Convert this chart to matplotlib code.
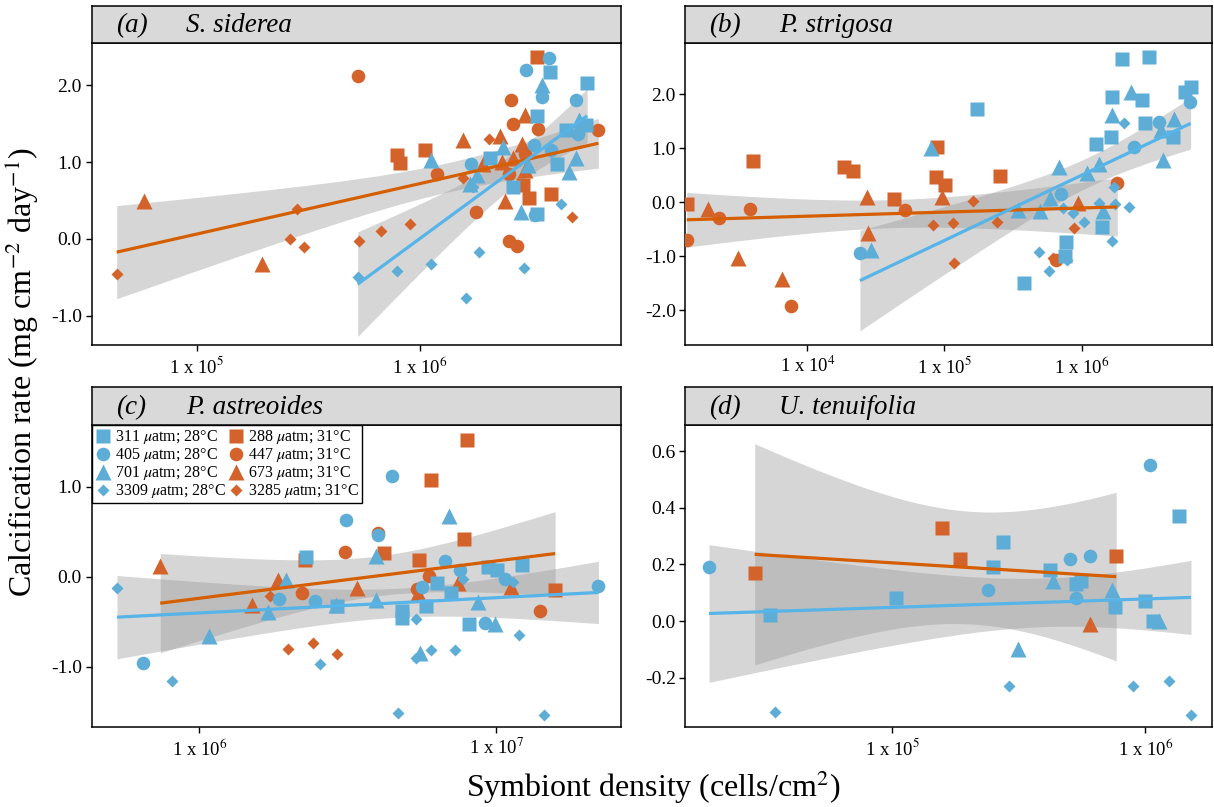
import math

import matplotlib
matplotlib.use("Agg")
import matplotlib.pyplot as plt
import numpy as np
from matplotlib.ticker import FixedLocator, FuncFormatter, NullLocator, FormatStrFormatter

plt.rcParams['font.family'] = ['Liberation Serif', 'DejaVu Serif']
plt.rcParams['mathtext.fontset'] = 'stix'
plt.rcParams['axes.unicode_minus'] = False

# symbiont density is stored as log10(cells/cm2), calcification in mg cm-2 day-1

# (a) S. siderea
ss_311_lx = [6.582, 6.749, 6.523, 6.654, 6.745, 6.313, 6.612, 6.415, 6.523]
ss_311_y = [2.17, 2.03, 1.60, 1.42, 1.48, 1.05, 0.97, 0.68, 0.32]
ss_405_lx = [6.579, 6.473, 6.545, 6.697, 6.709, 6.510, 6.589, 6.228, 6.514]
ss_405_y = [2.35, 2.20, 1.85, 1.81, 1.37, 1.22, 1.15, 0.97, 0.31]
ss_701_lx = [6.545, 6.049, 6.370, 6.254, 6.485, 6.699, 6.666, 6.452, 6.711, 6.224]
ss_701_y = [2.00, 1.02, 1.19, 0.83, 0.96, 1.05, 0.87, 0.35, 1.55, 0.72]
ss_3309_lx = [5.721, 5.899, 6.049, 6.204, 6.264, 6.465, 6.631, 6.239]
ss_3309_y = [-0.50, -0.42, -0.32, -0.77, -0.17, -0.38, 0.45, 0.68]
ss_288_lx = [6.523, 5.899, 5.910, 6.022, 6.462, 6.489, 6.589]
ss_288_y = [2.37, 1.09, 0.99, 1.16, 0.70, 0.53, 0.59]
ss_447_lx = [5.721, 6.408, 6.418, 6.527, 6.799, 6.075, 6.398, 6.251, 6.400, 6.433, 6.470]
ss_447_y = [2.12, 1.81, 1.49, 1.43, 1.42, 0.84, 0.85, 0.35, -0.03, -0.09, 1.11]
ss_673_lx = [4.765, 5.291, 6.191, 6.470, 6.358, 6.455, 6.283, 6.366, 6.415, 6.381, 6.470]
ss_673_y = [0.50, -0.32, 1.28, 1.61, 1.34, 1.23, 0.97, 1.00, 1.05, 0.50, 0.90]
ss_3285_lx = [4.642, 5.448, 5.418, 5.482, 5.727, 5.824, 5.955, 6.191, 6.309, 6.681]
ss_3285_y = [-0.45, 0.39, 0.00, -0.10, -0.03, 0.11, 0.20, 0.79, 1.30, 0.29]

# (b) P. strigosa
ps_311_lx = [6.295, 6.489, 5.239, 6.219, 6.436, 6.462, 6.216, 6.105, 6.667, 6.754, 6.793,
             6.145, 5.888, 5.875, 5.581]
ps_311_y = [2.65, 2.68, 1.72, 1.94, 1.89, 1.46, 1.20, 1.08, 1.20, 2.04, 2.14,
            -0.46, -0.74, -0.99, -1.50]
ps_405_lx = [6.786, 6.561, 6.383, 5.848, 4.384]
ps_405_y = [1.85, 1.49, 1.03, 0.15, -0.93]
ps_701_lx = [6.362, 6.219, 6.669, 6.581, 6.595, 6.126, 5.835, 6.039, 5.766, 5.536, 5.695,
             6.152, 4.901, 4.464]
ps_701_y = [2.03, 1.61, 1.54, 1.34, 0.79, 0.71, 0.66, 0.54, 0.07, -0.14, -0.17,
            -0.17, 1.00, -0.89]
ps_3309_lx = [6.311, 6.203, 6.238, 6.124, 6.243, 6.343, 5.862, 5.938, 6.013, 6.224, 5.687,
              5.761, 5.894]
ps_3309_y = [1.47, 1.23, 0.29, -0.02, -0.03, -0.09, -0.11, -0.20, -0.36, -0.71, -0.92,
             -1.27, -1.07]
ps_288_lx = [3.122, 3.608, 4.270, 4.331, 4.635, 4.945, 4.940, 5.006, 5.403]
ps_288_y = [-0.03, 0.77, 0.65, 0.57, 0.06, 1.02, 0.46, 0.32, 0.49]
ps_447_lx = [3.122, 3.357, 3.585, 3.884, 4.715, 6.259, 5.814]
ps_447_y = [-0.70, -0.30, -0.13, -1.92, -0.14, 0.36, -1.07]
ps_673_lx = [3.280, 3.497, 3.815, 4.432, 4.445, 4.980, 5.973]
ps_673_y = [-0.12, -1.04, -1.42, 0.10, -0.56, 0.10, -0.01]
ps_3285_lx = [4.913, 5.060, 5.068, 5.210, 5.385, 5.941, 5.793]
ps_3285_y = [-0.43, -0.38, -1.12, 0.03, -0.36, -0.48, -1.04]

# (c) P. astreoides
pa_311_lx = [6.360, 6.682, 6.682, 6.800, 6.848, 6.764, 6.910, 6.972, 7.004, 7.087, 6.463]
pa_311_y = [0.22, -0.38, -0.46, -0.07, -0.18, -0.32, -0.53, 0.11, 0.07, 0.13, -0.33]
pa_405_lx = [6.650, 6.494, 6.603, 6.828, 6.879, 7.030, 6.750, 6.269, 6.390, 6.961, 5.811, 7.345]
pa_405_y = [1.12, 0.63, 0.46, 0.17, 0.07, -0.03, -0.11, -0.25, -0.27, -0.51, -0.96, -0.10]
pa_701_lx = [6.842, 6.596, 6.292, 6.230, 6.460, 6.596, 6.938, 6.997, 6.033, 6.744]
pa_701_y = [0.67, 0.23, -0.04, -0.39, -0.31, -0.26, -0.28, -0.53, -0.66, -0.85]
pa_3309_lx = [5.722, 5.907, 6.407, 6.729, 6.729, 6.780, 6.862, 7.078, 7.056, 6.890, 6.671, 7.163]
pa_3309_y = [-0.13, -1.16, -0.97, -0.47, -0.90, -0.81, -0.81, -0.65, -0.06, -0.03, -1.51, -1.54]
pa_288_lx = [6.903, 6.780, 6.892, 6.623, 6.741, 6.356, 7.199]
pa_288_y = [1.52, 1.07, 0.42, 0.26, 0.19, 0.19, -0.15]
pa_447_lx = [6.601, 6.491, 6.774, 6.345, 6.733, 7.148]
pa_447_y = [0.49, 0.28, 0.01, -0.18, -0.14, -0.38]
pa_673_lx = [5.868, 6.266, 6.177, 6.531, 6.738, 6.870, 7.050]
pa_673_y = [0.12, -0.04, -0.31, -0.13, -0.18, -0.07, -0.11]
pa_3285_lx = [6.238, 6.300, 6.382, 6.463]
pa_3285_y = [-0.21, -0.80, -0.74, -0.86]

# (d) U. tenuifolia
ut_311_lx = [4.519, 5.017, 5.400, 5.438, 5.623, 5.727, 5.746, 5.882, 5.997, 6.029, 6.133]
ut_311_y = [0.02, 0.08, 0.19, 0.28, 0.18, 0.13, 0.14, 0.05, 0.07, 0.00, 0.37]
ut_405_lx = [4.278, 5.380, 5.703, 5.780, 5.725, 6.019]
ut_405_y = [0.19, 0.11, 0.22, 0.23, 0.08, 0.55]
ut_701_lx = [5.637, 5.867, 5.498, 6.053]
ut_701_y = [0.14, 0.11, -0.10, 0.00]
ut_3309_lx = [4.539, 5.462, 5.950, 6.093, 6.180]
ut_3309_y = [-0.32, -0.23, -0.23, -0.21, -0.33]
ut_288_lx = [4.458, 5.197, 5.268, 5.885]
ut_288_y = [0.17, 0.33, 0.22, 0.23]
ut_447_lx, ut_447_y = [], []
ut_673_lx = [5.782]
ut_673_y = [-0.01]
ut_3285_lx, ut_3285_y = [], []

labels_28 = [r'311 $\mu$atm; 28°C', r'405 $\mu$atm; 28°C', r'701 $\mu$atm; 28°C', r'3309 $\mu$atm; 28°C']
labels_31 = [r'288 $\mu$atm; 31°C', r'447 $\mu$atm; 31°C', r'673 $\mu$atm; 31°C', r'3285 $\mu$atm; 31°C']
markers = ['s', 'o', '^', 'D']
msizes = [9.5, 9.8, 11.5, 6.2]

BLUE_PT, ORANGE_PT = '#5EADD7', '#D3622B'
BLUE_LN, ORANGE_LN = '#56B4E9', '#D55E00'


def t975(df):
    t = np.linspace(0, 30, 300001)
    logc = math.lgamma((df + 1) / 2) - math.lgamma(df / 2) - 0.5 * math.log(df * math.pi)
    pdf = np.exp(logc) * (1 + t ** 2 / df) ** (-(df + 1) / 2)
    cdf = 0.5 + np.concatenate([[0], np.cumsum((pdf[1:] + pdf[:-1]) / 2 * np.diff(t))])
    return np.interp(0.975, cdf, t)


def lm_band(lx, y):
    lx = np.asarray(lx)
    y = np.asarray(y)
    n = len(lx)
    b, a = np.polyfit(lx, y, 1)
    xs = np.linspace(lx.min(), lx.max(), 100)
    yhat = a + b * xs
    s = np.sqrt(np.sum((y - (a + b * lx)) ** 2) / (n - 2))
    sxx = np.sum((lx - lx.mean()) ** 2)
    se = s * np.sqrt(1 / n + (xs - lx.mean()) ** 2 / sxx)
    t = t975(n - 2)
    return xs, yhat, yhat - t * se, yhat + t * se


W, H = 1214, 807
fig = plt.figure(figsize=(W / 100, H / 100), dpi=100)

panels = [
    dict(tag='(a)', name='S. siderea', px=(91.7, 620.7, 42.7, 345, 6),
         blue=[(ss_311_lx, ss_311_y), (ss_405_lx, ss_405_y), (ss_701_lx, ss_701_y), (ss_3309_lx, ss_3309_y)],
         orange=[(ss_288_lx, ss_288_y), (ss_447_lx, ss_447_y), (ss_673_lx, ss_673_y), (ss_3285_lx, ss_3285_y)],
         xlim=(4.530, 6.899), ylim=(-1.377, 2.55), xt=[5, 6], yt=[-1, 0, 1, 2]),
    dict(tag='(b)', name='P. strigosa', px=(685.5, 1212, 42.7, 345, 6),
         blue=[(ps_311_lx, ps_311_y), (ps_405_lx, ps_405_y), (ps_701_lx, ps_701_y), (ps_3309_lx, ps_3309_y)],
         orange=[(ps_288_lx, ps_288_y), (ps_447_lx, ps_447_y), (ps_673_lx, ps_673_y), (ps_3285_lx, ps_3285_y)],
         xlim=(3.113, 6.949), ylim=(-2.64, 2.95), xt=[4, 5, 6], yt=[-2, -1, 0, 1, 2]),
    dict(tag='(c)', name='P. astreoides', px=(91.7, 620.7, 425, 727, 387.3),
         blue=[(pa_311_lx, pa_311_y), (pa_405_lx, pa_405_y), (pa_701_lx, pa_701_y), (pa_3309_lx, pa_3309_y)],
         orange=[(pa_288_lx, pa_288_y), (pa_447_lx, pa_447_y), (pa_673_lx, pa_673_y), (pa_3285_lx, pa_3285_y)],
         xlim=(5.637, 7.42), ylim=(-1.67, 1.686), xt=[6, 7], yt=[-1, 0, 1]),
    dict(tag='(d)', name='U. tenuifolia', px=(685.5, 1212, 425, 727, 387.3),
         blue=[(ut_311_lx, ut_311_y), (ut_405_lx, ut_405_y), (ut_701_lx, ut_701_y), (ut_3309_lx, ut_3309_y)],
         orange=[(ut_288_lx, ut_288_y), (ut_447_lx, ut_447_y), (ut_673_lx, ut_673_y), (ut_3285_lx, ut_3285_y)],
         xlim=(4.185, 6.263), ylim=(-0.374, 0.692), xt=[5, 6], yt=[-0.2, 0.0, 0.2, 0.4, 0.6]),
]

legend_handles = []
for p in panels:
    x0, x1, ytop, ybot, stop = p['px']
    ax = fig.add_axes([x0 / W, 1 - ybot / H, (x1 - x0) / W, (ybot - ytop) / H])
    sax = fig.add_axes([x0 / W, 1 - ytop / H, (x1 - x0) / W, (ytop - stop) / H])

    handles = []
    for sets, col, labs in [(p['orange'], ORANGE_PT, labels_31), (p['blue'], BLUE_PT, labels_28)]:
        hs = []
        for (lx, y), m, ms, lab in zip(sets, markers, msizes, labs):
            h, = ax.plot(10 ** np.asarray(lx, dtype=float), y, ls='none', marker=m, ms=ms,
                         mfc=col, mec='none', label=lab, zorder=3)
            hs.append(h)
        handles.append(hs)
    if p['tag'] == '(c)':
        legend_handles = handles[1] + handles[0]

    for sets, col in [(p['orange'], ORANGE_LN), (p['blue'], BLUE_LN)]:
        lx = np.concatenate([np.asarray(s[0], dtype=float) for s in sets])
        y = np.concatenate([np.asarray(s[1], dtype=float) for s in sets])
        xs, yhat, lo, hi = lm_band(lx, y)
        ax.fill_between(10 ** xs, lo, hi, color='#999999', alpha=0.4, lw=0, zorder=2)
        ax.plot(10 ** xs, yhat, color=col, lw=2.3, zorder=4, solid_capstyle='butt')

    ax.set_xscale('log')
    ax.set_xlim(10 ** p['xlim'][0], 10 ** p['xlim'][1])
    ax.set_ylim(*p['ylim'])
    ax.xaxis.set_major_locator(FixedLocator([10.0 ** e for e in p['xt']]))
    ax.xaxis.set_minor_locator(NullLocator())
    ax.xaxis.set_major_formatter(FuncFormatter(lambda v, pos: r'1 x 10$^{%d}$' % round(math.log10(v))))
    ax.yaxis.set_major_locator(FixedLocator(p['yt']))
    ax.yaxis.set_major_formatter(FormatStrFormatter('%.1f'))
    ax.tick_params(direction='out', length=4, width=1, labelsize=14, pad=3, colors='black')
    ax.tick_params(axis='x', labelsize=13.5, pad=4)
    for sp in ax.spines.values():
        sp.set_linewidth(1.1)

    sax.set_facecolor('#D9D9D9')
    sax.set_xticks([])
    sax.set_yticks([])
    for sp in sax.spines.values():
        sp.set_linewidth(1.1)
    wpx = x1 - x0
    sax.text(24 / wpx, 0.47, p['tag'], transform=sax.transAxes, style='italic', fontsize=19.5, va='center')
    sax.text(94 / wpx, 0.47, p['name'], transform=sax.transAxes, style='italic', fontsize=19.5, va='center')

    if p['tag'] == '(c)':
        leg = ax.legend(handles=legend_handles, ncol=2, loc='upper left', bbox_to_anchor=(0, 1),
                        borderaxespad=0, fontsize=11.5, frameon=True, fancybox=False,
                        edgecolor='black', framealpha=1, borderpad=0.2, labelspacing=0.0,
                        handlelength=1.0, handletextpad=0.25, columnspacing=0.15)
        leg.get_frame().set_linewidth(1.0)
        leg.set_zorder(6)

fig.text(22 / W, 1 - 372 / H, 'Calcification rate (mg cm$^{-2}$ day$^{-1}$)', rotation=90,
         fontsize=23, ha='center', va='center')
fig.text(653 / W, 1 - 787 / H, 'Symbiont density (cells/cm$^{2}$)', fontsize=23,
         ha='center', va='center')

fig.savefig('out.png', dpi=100)
